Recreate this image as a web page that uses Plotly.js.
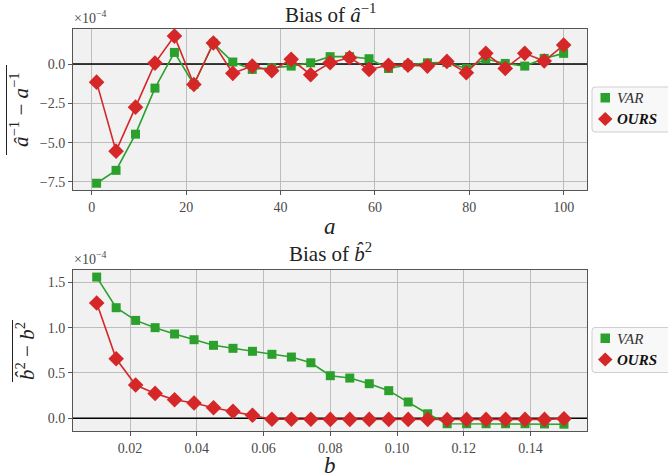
<!DOCTYPE html>
<html>
<head>
<meta charset="utf-8">
<script src="https://cdn.plot.ly/plotly-3.0.1.min.js"></script>
<style>html,body{margin:0;padding:0;background:#fff;}#chart{width:668px;height:473px;}</style>
</head>
<body>
<div id="chart"></div>
<script>
// Top panel: bias of a^-1 (x 1e-4)
const aValues = [1.0, 5.125, 9.25, 13.375, 17.5, 21.625, 25.75, 29.875, 34.0, 38.125, 42.25, 46.375, 50.5, 54.625, 58.75, 62.875, 67.0, 71.125, 75.25, 79.375, 83.5, 87.625, 91.75, 95.875, 100.0];
const aVAR  = [-7.58, -6.76, -4.46, -1.53, 0.74, -1.30, 1.32, 0.13, -0.34, -0.23, -0.13, 0.08, 0.47, 0.47, 0.34, -0.28, -0.06, 0.08, 0.10, -0.28, 0.32, 0.04, -0.13, 0.36, 0.68];
const aOURS = [-1.15, -5.54, -2.74, 0.06, 1.78, -1.30, 1.34, -0.59, -0.13, -0.43, 0.30, -0.68, 0.08, 0.40, -0.34, -0.08, -0.08, -0.13, 0.17, -0.55, 0.68, -0.28, 0.68, 0.19, 1.21];
// Bottom panel: bias of b^2 (x 1e-4)
const bValues = [0.01, 0.015833, 0.021667, 0.0275, 0.033333, 0.039167, 0.045, 0.050833, 0.056667, 0.0625, 0.068333, 0.074167, 0.08, 0.085833, 0.091667, 0.0975, 0.103333, 0.109167, 0.115, 0.120833, 0.126667, 0.1325, 0.138333, 0.144167, 0.15];
const bVAR  = [1.558, 1.22, 1.08, 1.00, 0.93, 0.867, 0.805, 0.772, 0.739, 0.706, 0.676, 0.613, 0.47, 0.444, 0.382, 0.305, 0.18, 0.05, -0.06, -0.06, -0.06, -0.06, -0.06, -0.062, -0.065];
const bOURS = [1.272, 0.657, 0.367, 0.275, 0.205, 0.169, 0.117, 0.077, 0.033, -0.011, -0.011, -0.011, -0.012, -0.012, -0.012, -0.012, -0.012, -0.012, -0.015, -0.012, -0.012, -0.012, -0.012, -0.012, -0.005];
const aTicks = [0, 20, 40, 60, 80, 100];
const aYTicks = [0.0, -2.5, -5.0, -7.5];
const bTicks = [0.02, 0.04, 0.06, 0.08, 0.10, 0.12, 0.14];
const bYTicks = [0.0, 0.5, 1.0, 1.5];
const seriesNames = ['<i>VAR</i>', '<b><i>OURS</i></b>'];

const GREEN = '#2ca02c', RED = '#d62728';
const SERIF = 'Liberation Serif';
const W = 668, H = 473;
const px = x => x / W, py = y => 1 - y / H;

function line(x, y, color, sym, size, xa, ya) {
  return {x: x, y: y, type: 'scatter', mode: 'lines+markers', showlegend: false,
    xaxis: xa, yaxis: ya,
    line: {color: color, width: 1.6},
    marker: {color: color, symbol: sym, size: size, line: {width: 0}}};
}
function zero(xr, xa, ya) {
  return {x: xr, y: [0, 0], type: 'scatter', mode: 'lines', xaxis: xa, yaxis: ya,
    line: {color: '#000', width: 1.6}, showlegend: false, hoverinfo: 'skip'};
}

const data = [
  zero([-10, 110], 'x', 'y'),
  line(aValues, aVAR, GREEN, 'square', 9, 'x', 'y'),
  line(aValues, aOURS, RED, 'diamond', 12, 'x', 'y'),
  zero([-1, 1], 'x2', 'y2'),
  line(bValues, bVAR, GREEN, 'square', 9, 'x2', 'y2'),
  line(bValues, bOURS, RED, 'diamond', 12, 'x2', 'y2')
];

// custom legend (matplotlib style) built from shapes + annotations
function rr(x0, y0, x1, y1, r) {
  const P = (x, y) => px(x) + ',' + py(y);
  return 'M' + P(x0 + r, y0) + ' L' + P(x1 - r, y0) + ' Q' + P(x1, y0) + ' ' + P(x1, y0 + r) +
    ' L' + P(x1, y1 - r) + ' Q' + P(x1, y1) + ' ' + P(x1 - r, y1) +
    ' L' + P(x0 + r, y1) + ' Q' + P(x0, y1) + ' ' + P(x0, y1 - r) +
    ' L' + P(x0, y0 + r) + ' Q' + P(x0, y0) + ' ' + P(x0 + r, y0) + ' Z';
}
function legendShapes(dy) {
  const P = (x, y) => px(x) + ',' + py(y + dy);
  return [
    {type: 'path', xref: 'paper', yref: 'paper', path: rr(592, 87 + dy, 672, 132 + dy, 3),
      fillcolor: 'rgba(247,247,247,0.9)', line: {color: '#cfcfcf', width: 1}},
    {type: 'rect', xref: 'paper', yref: 'paper', x0: px(600.5), x1: px(610), y0: py(93 + dy), y1: py(102.5 + dy),
      fillcolor: GREEN, line: {width: 0}},
    {type: 'path', xref: 'paper', yref: 'paper',
      path: 'M' + P(605.2, 112) + ' L' + P(612.5, 119) + ' L' + P(605.2, 126) + ' L' + P(598, 119) + ' Z',
      fillcolor: RED, line: {width: 0}}
  ];
}
function legendTexts(dy) {
  return [
    {text: seriesNames[0], x: px(615), y: py(98 + dy), xref: 'paper', yref: 'paper', xanchor: 'left', yanchor: 'middle',
      showarrow: false, font: {family: SERIF, size: 15, color: '#333'}},
    {text: seriesNames[1], x: px(615), y: py(119 + dy), xref: 'paper', yref: 'paper', xanchor: 'left', yanchor: 'middle',
      showarrow: false, font: {family: SERIF, size: 15, color: '#111'}}
  ];
}

const xd = [px(73), px(587)];
const axisCommon = {
  showgrid: true, gridcolor: '#bdbdbd', gridwidth: 1,
  showline: true, linecolor: '#555', linewidth: 1, mirror: true,
  ticks: 'outside', ticklen: 4, tickcolor: '#555',
  tickfont: {family: SERIF, size: 14, color: '#4a4a4a'},
  zeroline: false, fixedrange: true
};
const fmt = v => (v < 0 ? '−' : '') + Math.abs(v).toFixed(1);

const layout = {
  width: W, height: H,
  margin: {l: 0, r: 0, t: 0, b: 0},
  font: {family: SERIF, color: '#222'},
  showlegend: false,
  paper_bgcolor: '#fff', plot_bgcolor: '#f1f1f1',
  xaxis: Object.assign({}, axisCommon, {domain: xd, anchor: 'y', range: [-4.0, 104.95],
    tickvals: aTicks, ticktext: aTicks.map(String)}),
  yaxis: Object.assign({}, axisCommon, {domain: [py(190), py(29)], anchor: 'x', range: [-8.01, 2.23],
    tickvals: aYTicks, ticktext: aYTicks.map(fmt)}),
  xaxis2: Object.assign({}, axisCommon, {domain: xd, anchor: 'y2', range: [0.0029, 0.1569],
    tickvals: bTicks, ticktext: bTicks.map(v => v.toFixed(2))}),
  yaxis2: Object.assign({}, axisCommon, {domain: [py(431), py(270)], anchor: 'x2', range: [-0.14, 1.636],
    tickvals: bYTicks, ticktext: bYTicks.map(fmt)}),
  shapes: [].concat(legendShapes(0), legendShapes(240.5), [
    // overlines of the y-axis labels
    {type: 'line', xref: 'paper', yref: 'paper', x0: px(6.5), x1: px(6.5), y0: py(65), y1: py(155), line: {color: '#222', width: 1}},
    {type: 'line', xref: 'paper', yref: 'paper', x0: px(12.5), x1: px(12.5), y0: py(320), y1: py(382), line: {color: '#222', width: 1}}
  ]),
  annotations: [].concat(legendTexts(0), legendTexts(240.5), [
    {text: 'Bias of <i>â</i><sup>−1</sup>', x: px(330), y: py(-2), xref: 'paper', yref: 'paper', yanchor: 'top',
      showarrow: false, font: {family: SERIF, size: 21, color: '#222'}},
    {text: 'Bias of <i>b̂</i><sup>2</sup>', x: px(330), y: py(268), xref: 'paper', yref: 'paper', yanchor: 'bottom',
      showarrow: false, font: {family: SERIF, size: 21, color: '#222'}},
    {text: '×10<sup>−4</sup>', x: px(72), y: py(28), xref: 'paper', yref: 'paper', xanchor: 'left', yanchor: 'bottom',
      showarrow: false, font: {family: SERIF, size: 14, color: '#4a4a4a'}},
    {text: '×10<sup>−4</sup>', x: px(72), y: py(269), xref: 'paper', yref: 'paper', xanchor: 'left', yanchor: 'bottom',
      showarrow: false, font: {family: SERIF, size: 14, color: '#4a4a4a'}},
    {text: '<i>a</i>', x: px(330), y: py(226), xref: 'paper', yref: 'paper', yanchor: 'middle',
      showarrow: false, font: {family: SERIF, size: 23, color: '#222'}},
    {text: '<i>b</i>', x: px(330), y: py(480), xref: 'paper', yref: 'paper', yanchor: 'bottom',
      showarrow: false, font: {family: SERIF, size: 23, color: '#222'}},
    {text: '<i>â</i><sup>−1</sup> − <i>a</i><sup>−1</sup>',
      x: px(20), y: py(110), xref: 'paper', yref: 'paper', textangle: -90, xanchor: 'center', yanchor: 'middle',
      showarrow: false, font: {family: SERIF, size: 21, color: '#222'}},
    {text: '<i>b̂</i><sup>2</sup> − <i>b</i><sup>2</sup>',
      x: px(25), y: py(351), xref: 'paper', yref: 'paper', textangle: -90, xanchor: 'center', yanchor: 'middle',
      showarrow: false, font: {family: SERIF, size: 21, color: '#222'}}
  ])
};

Plotly.newPlot('chart', data, layout, {displayModeBar: false, staticPlot: true});
</script>
</body>
</html>
